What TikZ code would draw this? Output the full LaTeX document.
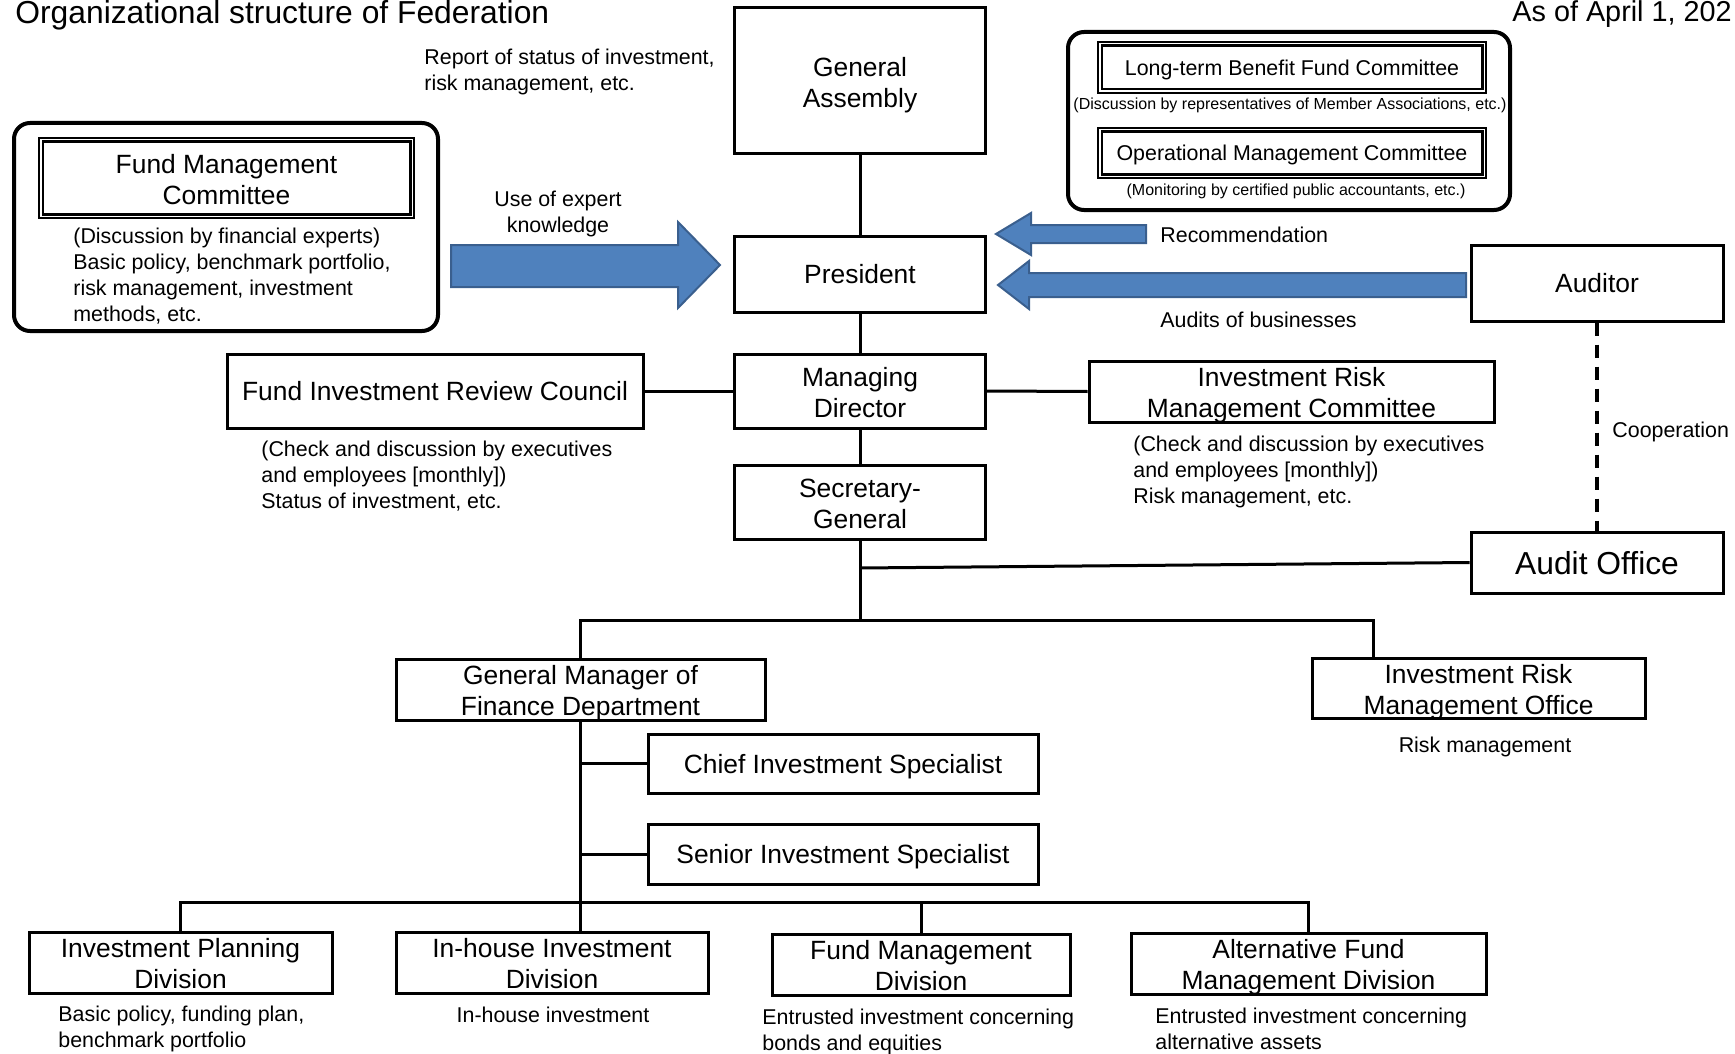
\documentclass[tikz,border=0pt]{standalone}
\usepackage{fontspec}
\setmainfont{Liberation Sans}
\usetikzlibrary{calc}
\definecolor{arrowblue}{HTML}{4F81BD}
\definecolor{arrowedge}{HTML}{3A5F8E}
\newcommand\myfmain{\fontsize{13.2}{15.5}\selectfont}
\newcommand\myfsmall{\fontsize{10.7}{12.9}\selectfont}
\newcommand\myftiny{\fontsize{8}{9.6}\selectfont}
\newcommand\myfbig{\fontsize{15.9}{19}\selectfont}
\newcommand\myfdate{\fontsize{14.4}{17}\selectfont}
\newcommand\twol[2]{\rule{0pt}{10.9pt}#1\\\smash{#2}}
\tikzset{
  box/.style={draw, line width=1.5pt, inner sep=0pt, align=center, font=\myfmain},
  one/.style={text depth=0pt},
  dbl/.style={draw, line width=1.1pt, inner sep=0pt, align=center},
  sz/.style 2 args={minimum width=#1*0.5pt, minimum height=#2*0.5pt},
  note/.style={inner sep=0pt, align=left, font=\myfsmall, anchor=west},
  tinynote/.style={inner sep=0pt, align=center, font=\myftiny},
  conn/.style={line width=1.5pt},
  rbox/.style={draw, line width=2pt, rounded corners=8pt, inner sep=0pt},
  barrow/.style={fill=arrowblue, draw=arrowedge, line width=1pt, line join=miter}
}
\begin{document}
\begin{tikzpicture}[x=0.5pt, y=-0.5pt]
\useasboundingbox (0,0) rectangle (1735,1054);

% titles
\node[anchor=base west, inner sep=0pt, font=\myfbig] (title) at (15,24) {Organizational structure of Federation};
\node[anchor=base west, inner sep=0pt, font=\myfdate] (date) at (1512,22) {As of April 1, 202};

% main chain
\node[box, sz={251}{146}] (ga) at (860,81) {\twol{General}{Assembly}};
\node[box, one, sz={251}{76}] (pres) at (860,274) {President};
\node[box, sz={251}{74}] (md) at (860,391) {\twol{Managing}{Director}};
\node[box, sz={251}{74}] (sg) at (860,502) {\twol{Secretary-}{General}};
\node[box, one, sz={416}{74}] (firc) at (435,391) {Fund Investment Review Council};
\node[box, sz={405}{61}] (irmc) at (1291.5,391.5) {\twol{Investment Risk}{Management Committee}};
\node[box, one, sz={252}{76}] (auditor) at (1597,283) {Auditor};
\node[box, one, sz={252}{61}, font=\myfbig] (audit) at (1597,562.5) {Audit Office};
\node[box, sz={369}{61}] (gm) at (580.5,689.5) {\twol{General Manager of}{Finance Department}};
\node[box, sz={333}{60}] (irmo) at (1478.5,688) {\twol{Investment Risk}{Management Office}};
\node[box, one, sz={390}{59}] (cis) at (843,763.5) {Chief Investment Specialist};
\node[box, one, sz={390}{60}] (sis) at (843,854) {Senior Investment Specialist};
\node[box, sz={303}{61}] (ipd) at (180.5,962.5) {\twol{Investment Planning}{Division}};
\node[box, sz={312}{61}] (ihd) at (552,962.5) {\twol{In-house Investment}{Division}};
\node[box, sz={298}{61}] (fmd) at (921,964.5) {\twol{Fund Management}{Division}};
\node[box, sz={355}{61}] (afmd) at (1308.5,963.5) {\twol{Alternative Fund}{Management Division}};

% left committee
\node[rbox, sz={424}{208}] (fmcframe) at (226,227) {};
\node[dbl, sz={375}{80}, font=\myfmain] (fmc) at (226.5,178) {\twol{Fund Management}{Committee}};
\node[note] (fmcnote) at (73,276) {(Discussion by financial experts)\\Basic policy, benchmark portfolio,\\risk management, investment\\methods, etc.};

% right committees
\node[rbox, sz={442}{178}] (cframe) at (1289,121) {};
\node[dbl, one, sz={388}{51}, font=\myfsmall] (ltb) at (1292,67.5) {Long-term Benefit Fund Committee};
\node[tinynote] (ltbnote) at (1290,105) {(Discussion by representatives of Member Associations, etc.)};
\node[dbl, one, sz={388}{50}, font=\myfsmall] (omc) at (1292,153) {Operational Management Committee};
\node[tinynote] (omcnote) at (1296,191) {(Monitoring by certified public accountants, etc.)};

\foreach \n in {fmc,ltb,omc}
  \draw[line width=1.4pt] ($(\n.north west)+(5,5)$) rectangle ($(\n.south east)+(-5,-5)$);

% notes
\node[note] (rep) at (424,72) {Report of status of investment,\\risk management, etc.};
\node[note, align=center, anchor=center] (use) at (558,214) {Use of expert\\knowledge};
\node[note] (rec) at (1160,235) {Recommendation};
\node[note] (aud) at (1160,320) {Audits of businesses};
\node[note] (coop) at (1612,432) {Cooperation};
\node[note] (fircnote) at (261,476) {(Check and discussion by executives\\and employees [monthly])\\Status of investment, etc.};
\node[note] (irmcnote) at (1133,472) {(Check and discussion by executives\\and employees [monthly])\\Risk management, etc.};
\node[note, anchor=center] (irmonote) at (1485,747) {Risk management};
\node[note] (ipdnote) at (58,1029) {Basic policy, funding plan,\\benchmark portfolio};
\node[note, anchor=center] (ihdnote) at (553,1015) {In-house investment};
\node[note] (fmdnote) at (762,1032) {Entrusted investment concerning\\bonds and equities};
\node[note] (afmdnote) at (1155,1029) {Entrusted investment concerning\\alternative assets};

% block arrows
\draw[barrow] (451,245) -- (678,245) -- (678,222) -- (720,265) -- (678,308) -- (678,287) -- (451,287) -- cycle;
\draw[barrow] (1146,225) -- (1031,225) -- (1031,213) -- (996,234) -- (1031,255) -- (1031,243) -- (1146,243) -- cycle;
\draw[barrow] (1466,273) -- (1029,273) -- (1029,261) -- (998,285) -- (1029,309) -- (1029,297) -- (1466,297) -- cycle;

% connectors
\draw[conn] (ga) -- (pres);
\draw[conn] (pres) -- (md);
\draw[conn] (md) -- (sg);
\draw[conn] (firc.east) -- (md.west);
\draw[conn] (md.east) -- (irmc.west);
\coordinate (ja) at (860,568);
\coordinate (jb) at (860,620);
\draw[conn] (sg.south) -- (jb);
\draw[conn] (ja) -- (audit.west);
\coordinate (barL) at (580.5,620);
\coordinate (barR) at (1373,620);
\draw[conn] (gm.north) -- (barL) -- (barR) -- (barR |- irmo.north);
\draw[conn] (gm.south) -- (gm.south |- ihd.north);
\draw[conn] (gm.south |- cis.west) -- (cis.west);
\draw[conn] (gm.south |- sis.west) -- (sis.west);
\coordinate (divL) at (180.5,902);
\coordinate (divR) at (1308.5,902);
\draw[conn] (ipd.north) -- (divL) -- (divR) -- (afmd.north);
\draw[conn] (fmd.north |- divL) -- (fmd.north);
\draw[line width=1.7pt, dash pattern=on 6.5pt off 4.5pt] (auditor) -- (audit);
\end{tikzpicture}
\end{document}
